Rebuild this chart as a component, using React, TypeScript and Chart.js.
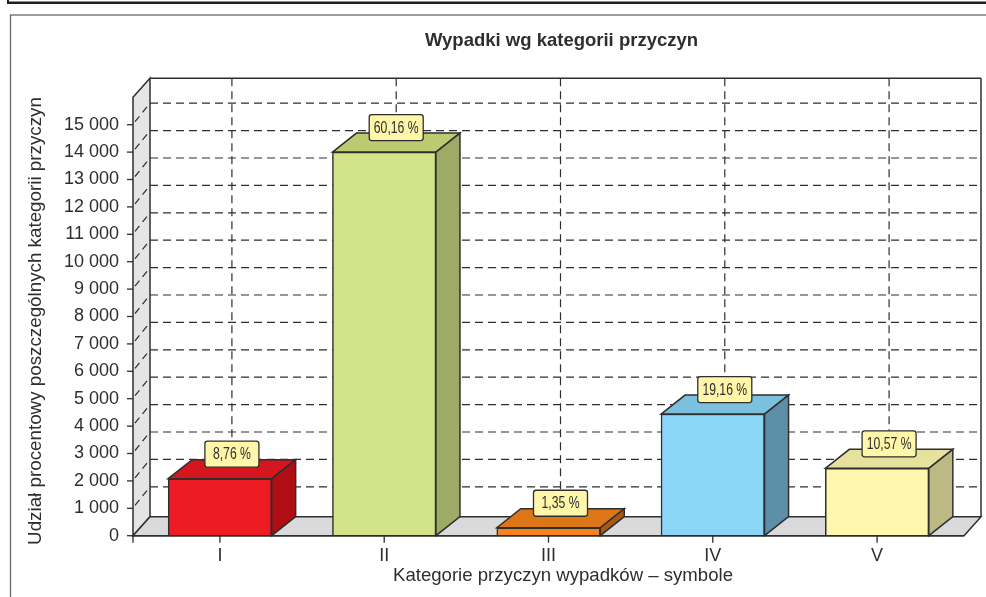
import React, { useEffect, useRef } from "react";
import { Chart, registerables } from "chart.js";

Chart.register(...registerables);

const categories = ["I", "II", "III", "IV", "V"];
const values = [2080, 14000, 290, 4440, 2460];
const percentLabels = ["8,76 %", "60,16 %", "1,35 %", "19,16 %", "10,57 %"];
const frontColors = ["#ed1c24", "#d3e38a", "#f58220", "#8bd6f6", "#fff7ae"];
const topColors = ["#d5161f", "#bcca70", "#dd7519", "#7cc0df", "#e7e19e"];
const sideColors = ["#b00d14", "#9dab67", "#a85a14", "#5d90a8", "#bdb984"];
const titleText = "Wypadki wg kategorii przyczyn";
const xTitle = "Kategorie przyczyn wypadków – symbole";
const yTitle = "Udział procentowy poszczególnych kategorii przyczyn";

const INK = "#2f2e2e";
const FONT = '"Liberation Sans", Arial, sans-serif';
const WALL_DX = 17;
const WALL_DY = 19;
const GRID_DY = 21.5;
const BAR_DX = 24;
const BAR_DY = 19;

const poly = (ctx: CanvasRenderingContext2D, pts: number[][], fill: string | null, stroke: string | null, lw = 1.5) => {
  ctx.beginPath();
  pts.forEach((p, i) => (i ? ctx.lineTo(p[0], p[1]) : ctx.moveTo(p[0], p[1])));
  ctx.closePath();
  if (fill) { ctx.fillStyle = fill; ctx.fill(); }
  if (stroke) { ctx.strokeStyle = stroke; ctx.lineWidth = lw; ctx.stroke(); }
};

const line = (ctx: CanvasRenderingContext2D, x1: number, y1: number, x2: number, y2: number, dash: number[] = [], lw = 1.3, color = INK) => {
  ctx.save();
  ctx.setLineDash(dash);
  ctx.strokeStyle = color;
  ctx.lineWidth = lw;
  ctx.beginPath();
  ctx.moveTo(x1, y1);
  ctx.lineTo(x2, y2);
  ctx.stroke();
  ctx.restore();
};

const backdrop = {
  id: "backdrop",
  beforeDraw(chart: any) {
    const { ctx, width, height } = chart;
    ctx.save();
    ctx.fillStyle = "#ffffff";
    ctx.fillRect(0, 0, width, height);
    ctx.fillStyle = "#231f20";
    ctx.fillRect(7, 1.5, width - 7, 2.5);
    ctx.fillRect(7, 0, 2, 4);
    ctx.strokeStyle = "#6a6a6a";
    ctx.lineWidth = 1.3;
    ctx.strokeRect(10.5, 15, width + 20, height + 20);
    ctx.restore();
  },
  beforeDatasetsDraw(chart: any) {
    const { ctx, scales } = chart;
    const x = scales.x, y = scales.y;
    const l = x.left, r = x.right, b = y.bottom, t = y.top;
    ctx.save();
    poly(ctx, [[l, t], [l + WALL_DX, t - WALL_DY], [l + WALL_DX, b - WALL_DY], [l, b]], "#e4e5e7", INK);
    poly(ctx, [[l, b], [l + WALL_DX, b - WALL_DY], [r + WALL_DX, b - WALL_DY], [r, b]], "#d9dadc", INK);
    line(ctx, l + WALL_DX, t - WALL_DY, r + WALL_DX, t - WALL_DY, [], 1.5);
    line(ctx, r + WALL_DX, t - WALL_DY, r + WALL_DX, b - WALL_DY, [], 1.5);
    y.ticks.forEach((tick: any) => {
      if (tick.value === y.max) return;
      const py = y.getPixelForValue(tick.value);
      line(ctx, l - 6, py, l, py, [], 1.3);
      if (tick.value === 0) return;
      line(ctx, l + WALL_DX, py - GRID_DY, r + WALL_DX, py - GRID_DY, [8, 5], 1.2);
      line(ctx, l + 2, py - 3, l + WALL_DX, py - GRID_DY, [7, 5], 1.2);
    });
    x.ticks.forEach((tick: any) => {
      const px = x.getPixelForValue(tick.value);
      line(ctx, px, b, px, b + 7, [], 1.3);
      line(ctx, px + BAR_DX / 2, t - WALL_DY, px + BAR_DX / 2, b - WALL_DY, [8, 5], 1.2);
    });
    ctx.restore();
  },
  afterDatasetsDraw(chart: any) {
    const { ctx, scales } = chart;
    const x = scales.x, y = scales.y;
    const els = chart.getDatasetMeta(0).data;
    ctx.save();
    els.forEach((el: any, i: number) => {
      const w = el.width;
      const L = el.x - w / 2, R = el.x + w / 2, T = el.y, B = el.base;
      poly(ctx, [[L, T], [L + BAR_DX, T - BAR_DY], [R + BAR_DX, T - BAR_DY], [R, T]], topColors[i], INK);
      poly(ctx, [[R, T], [R + BAR_DX, T - BAR_DY], [R + BAR_DX, B - BAR_DY], [R, B]], sideColors[i], INK);
    });
    line(ctx, x.left, y.bottom, x.right, y.bottom, [], 1.5);
    line(ctx, x.left, y.bottom, x.left, y.bottom + 7, [], 1.3);
    els.forEach((el: any, i: number) => {
      const cx = el.x + BAR_DX / 2;
      const cy = el.y - BAR_DY - 5.5;
      const bw = 54;
      ctx.beginPath();
      ctx.roundRect(cx - bw / 2, cy - 13, bw, 26, 2.5);
      ctx.fillStyle = "#fff6a9";
      ctx.fill();
      ctx.strokeStyle = INK;
      ctx.lineWidth = 1.3;
      ctx.stroke();
      ctx.save();
      ctx.translate(cx, cy + 0.5);
      ctx.scale(0.74, 1);
      ctx.fillStyle = INK;
      ctx.font = `16.5px ${FONT}`;
      ctx.textAlign = "center";
      ctx.textBaseline = "middle";
      ctx.fillText(percentLabels[i], 0, 0);
      ctx.restore();
    });
    ctx.fillStyle = INK;
    ctx.textAlign = "center";
    ctx.textBaseline = "middle";
    ctx.font = `bold 18.5px ${FONT}`;
    ctx.fillText(titleText, 561.5, 41);
    ctx.font = `18.6px ${FONT}`;
    ctx.fillText(xTitle, 563, 576);
    ctx.save();
    ctx.translate(36, 321);
    ctx.rotate(-Math.PI / 2);
    ctx.font = `18.8px ${FONT}`;
    ctx.fillText(yTitle, 0, 0);
    ctx.restore();
    ctx.restore();
  },
};

export default function App() {
  const ref = useRef<HTMLCanvasElement>(null);
  useEffect(() => {
    document.body.style.margin = "0";
    const chart = new Chart(ref.current as HTMLCanvasElement, {
      type: "bar",
      data: {
        datasets: [
          {
            data: values.map((v, i) => ({ x: i, y: v })),
            backgroundColor: frontColors,
            borderColor: INK,
            borderWidth: 1.5,
            barThickness: 103.5,
          },
        ],
      },
      options: {
        responsive: false,
        animation: false,
        layout: { padding: { left: 0, top: 97.3, right: 22, bottom: 0 } },
        plugins: { legend: { display: false }, tooltip: { enabled: false }, title: { display: false } },
        scales: {
          x: {
            type: "linear",
            min: -0.529,
            max: 4.529,
            bounds: "data",
            offset: false,
            afterBuildTicks: (s: any) => { s.ticks = categories.map((_, i) => ({ value: i })); },
            afterFit: (s: any) => { s.height = 61.3; },
            grid: { display: false, offset: false },
            border: { display: false },
            ticks: {
              autoSkip: false,
              maxRotation: 0,
              padding: 2,
              color: INK,
              font: { family: FONT, size: 18 },
              callback: (v: any) => categories[v] ?? "",
            },
          },
          y: {
            min: 0,
            max: 16000,
            afterFit: (s: any) => { s.width = 133; },
            grid: { display: false },
            border: { display: false },
            ticks: {
              stepSize: 1000,
              autoSkip: false,
              padding: 6,
              color: INK,
              font: { family: FONT, size: 18 },
              callback: (v: any) => {
                if (v === 16000) return "";
                const th = Math.floor(v / 1000);
                return v === 0 ? "0" : `${th} 000`;
              },
            },
          },
        },
      },
      plugins: [backdrop],
    } as any);
    return () => chart.destroy();
  }, []);
  return (
    <div style={{ width: 986, height: 597 }}>
      <canvas ref={ref} width={986} height={597} />
    </div>
  );
}
